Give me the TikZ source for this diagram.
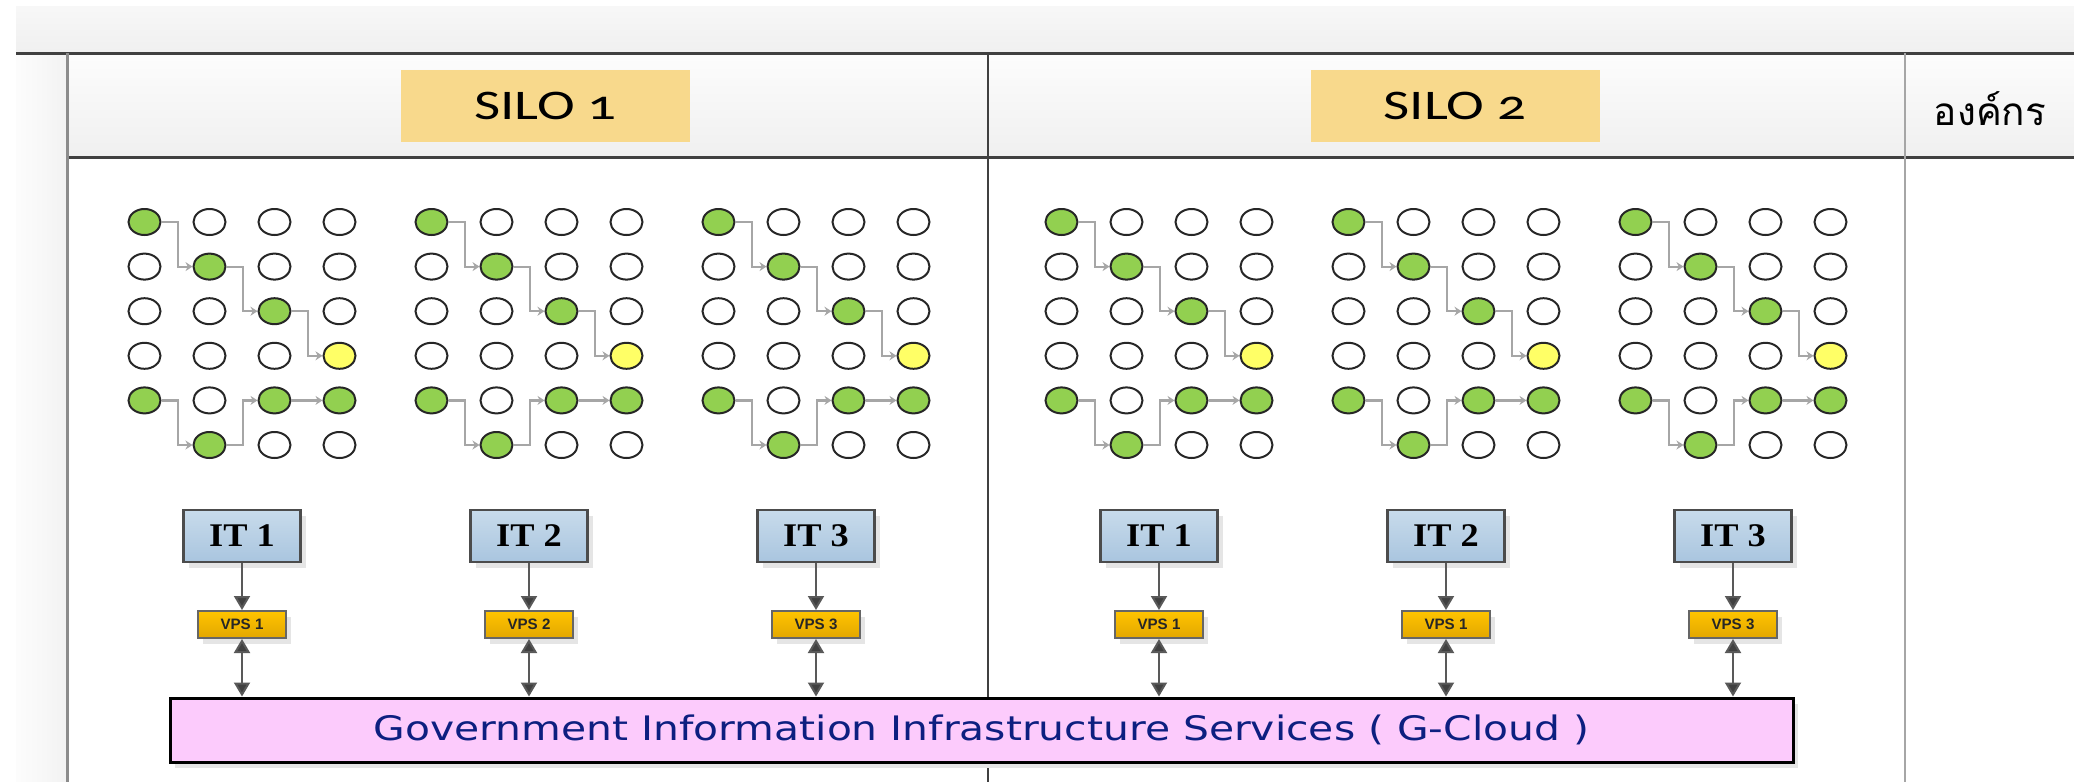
\documentclass[tikz,border=0pt]{standalone}
\usepackage{fontspec}
\setmainfont{Liberation Serif}[FakeStretch=1.1]
\newfontfamily\silofont{Carlito}[Numbers=OldStyle,FakeStretch=1.35]
\newfontfamily\cloudfont{DejaVu Sans}[FakeStretch=1.21]
\newfontfamily\vpsfont{Liberation Sans}
\newfontfamily\thaifont[Script=Thai]{Loma}
\usepackage{tikz}
\usetikzlibrary{arrows.meta,positioning,shapes.geometric,shadows}

\definecolor{silogold}{HTML}{F8D98C}
\definecolor{itbluetop}{HTML}{C8DBEB}
\definecolor{itblue}{HTML}{A9C5DF}
\definecolor{vpstop}{HTML}{FFC400}
\definecolor{vpsbot}{HTML}{E3A700}
\definecolor{cloudpink}{HTML}{FCCBFC}
\definecolor{cloudtext}{HTML}{0D1F80}
\definecolor{leafgreen}{HTML}{92D050}
\definecolor{hotyellow}{HTML}{FFFF66}
\definecolor{wiregray}{HTML}{A6A6A6}
\definecolor{rulegray}{HTML}{404040}

\begin{document}
\begin{tikzpicture}[
  silo/.style={fill=silogold, minimum width=2.89cm, minimum height=0.72cm, inner sep=0pt, font=\silofont\fontsize{12}{13}\selectfont},
  lift/.style={drop shadow={shadow xshift=0.05cm, shadow yshift=-0.06cm, fill=black!10, opacity=1}},
  it/.style={draw=black!70, line width=0.25mm, top color=itbluetop, bottom color=itblue, minimum width=1.17cm, minimum height=0.52cm, inner sep=0pt, font=\bfseries\fontsize{9.4}{10}\selectfont, lift},
  vps/.style={draw=black!60, line width=0.2mm, top color=vpstop, bottom color=vpsbot, minimum width=0.88cm, minimum height=0.27cm, inner sep=0pt, font=\vpsfont\bfseries\fontsize{4.3}{5}\selectfont, text=black!85, lift},
  cloud/.style={draw=black, line width=0.3mm, fill=cloudpink, minimum width=16.23cm, minimum height=0.64cm, inner sep=0pt, font=\cloudfont\fontsize{9.6}{10}\selectfont, text=cloudtext, lift},
  dot/.style={ellipse, draw=black!85, line width=0.2mm, fill=white, minimum width=0.32cm, minimum height=0.26cm, inner sep=0pt},
  c00/.style={fill=leafgreen}, c11/.style={fill=leafgreen}, c22/.style={fill=leafgreen},
  c33/.style={fill=hotyellow}, c40/.style={fill=leafgreen}, c42/.style={fill=leafgreen},
  c43/.style={fill=leafgreen}, c51/.style={fill=leafgreen}, c50/.style={draw=none, fill=none},
  wire/.style={draw=wiregray, line width=0.22mm, -{Stealth[length=0.7mm, width=0.9mm]}},
  arr/.style={draw=black!65, line width=0.2mm, -{Triangle[length=1.4mm, width=1.6mm, fill=black!75]}},
  darr/.style={arr, {Triangle[length=1.4mm, width=1.6mm, fill=black!75]}-{Triangle[length=1.4mm, width=1.6mm, fill=black!75]}}
]
\useasboundingbox (0,0) rectangle (20.74,-7.82);
\fill[top color=black!3, bottom color=black!6] (0.16,-0.06) rectangle (20.74,-0.53);
\fill[top color=black!1, bottom color=black!6] (0.68,-0.53) rectangle (20.74,-1.57);
\fill[left color=black!1, right color=black!5] (0.16,-0.53) rectangle (0.68,-7.82);
\draw[rulegray, line width=0.3mm] (0.16,-0.53) -- (20.74,-0.53);
\draw[rulegray, line width=0.3mm] (0.68,-1.57) -- (20.74,-1.57);
\draw[black!45, line width=0.3mm] (0.68,-0.53) -- (0.68,-7.82);
\draw[rulegray, line width=0.25mm] (9.88,-0.53) -- (9.88,-7.82);
\draw[black!35, line width=0.25mm] (19.05,-0.53) -- (19.05,-7.82);

\node[silo] (silo1) at (5.455,-1.06) {SILO 1};
\node[silo] (silo2) at (14.55,-1.06) {SILO 2};
\node[font=\thaifont\fontsize{11}{12}\selectfont] (org) at (19.9,-1.09) {องค์กร};

\node[cloud] (cloud) at (9.815,-7.30) {Government Information Infrastructure Services ( G-Cloud )};

\foreach \s/\k/\vp in {0/1/1, 0/2/2, 0/3/3, 1/1/1, 1/2/1, 1/3/3} {
  \pgfmathsetmacro\cx{2.42+2.87*(\k-1)+9.17*\s}
  \foreach \row in {0,...,5}
    \foreach \col in {0,...,3}
      \node[dot, c\row\col/.try] (d\s\k-\row\col) at (\cx-0.975+0.65*\col, -2.22-0.446*\row) {};
  \foreach \a/\b in {00/11, 11/22, 22/33, 40/51, 51/42}
    \draw[wire] (d\s\k-\a.east) -- ++(0.165,0) |- (d\s\k-\b.west);
  \draw[wire] (d\s\k-42) -- (d\s\k-43);
  \node[it] (it\s\k) at (\cx,-5.36) {IT \k};
  \node[vps] (vps\s\k) at (\cx,-6.245) {VPS \vp};
  \draw[arr] (it\s\k) -- (vps\s\k);
  \draw[darr] (vps\s\k) -- (vps\s\k |- cloud.north);
}
\end{tikzpicture}
\end{document}
